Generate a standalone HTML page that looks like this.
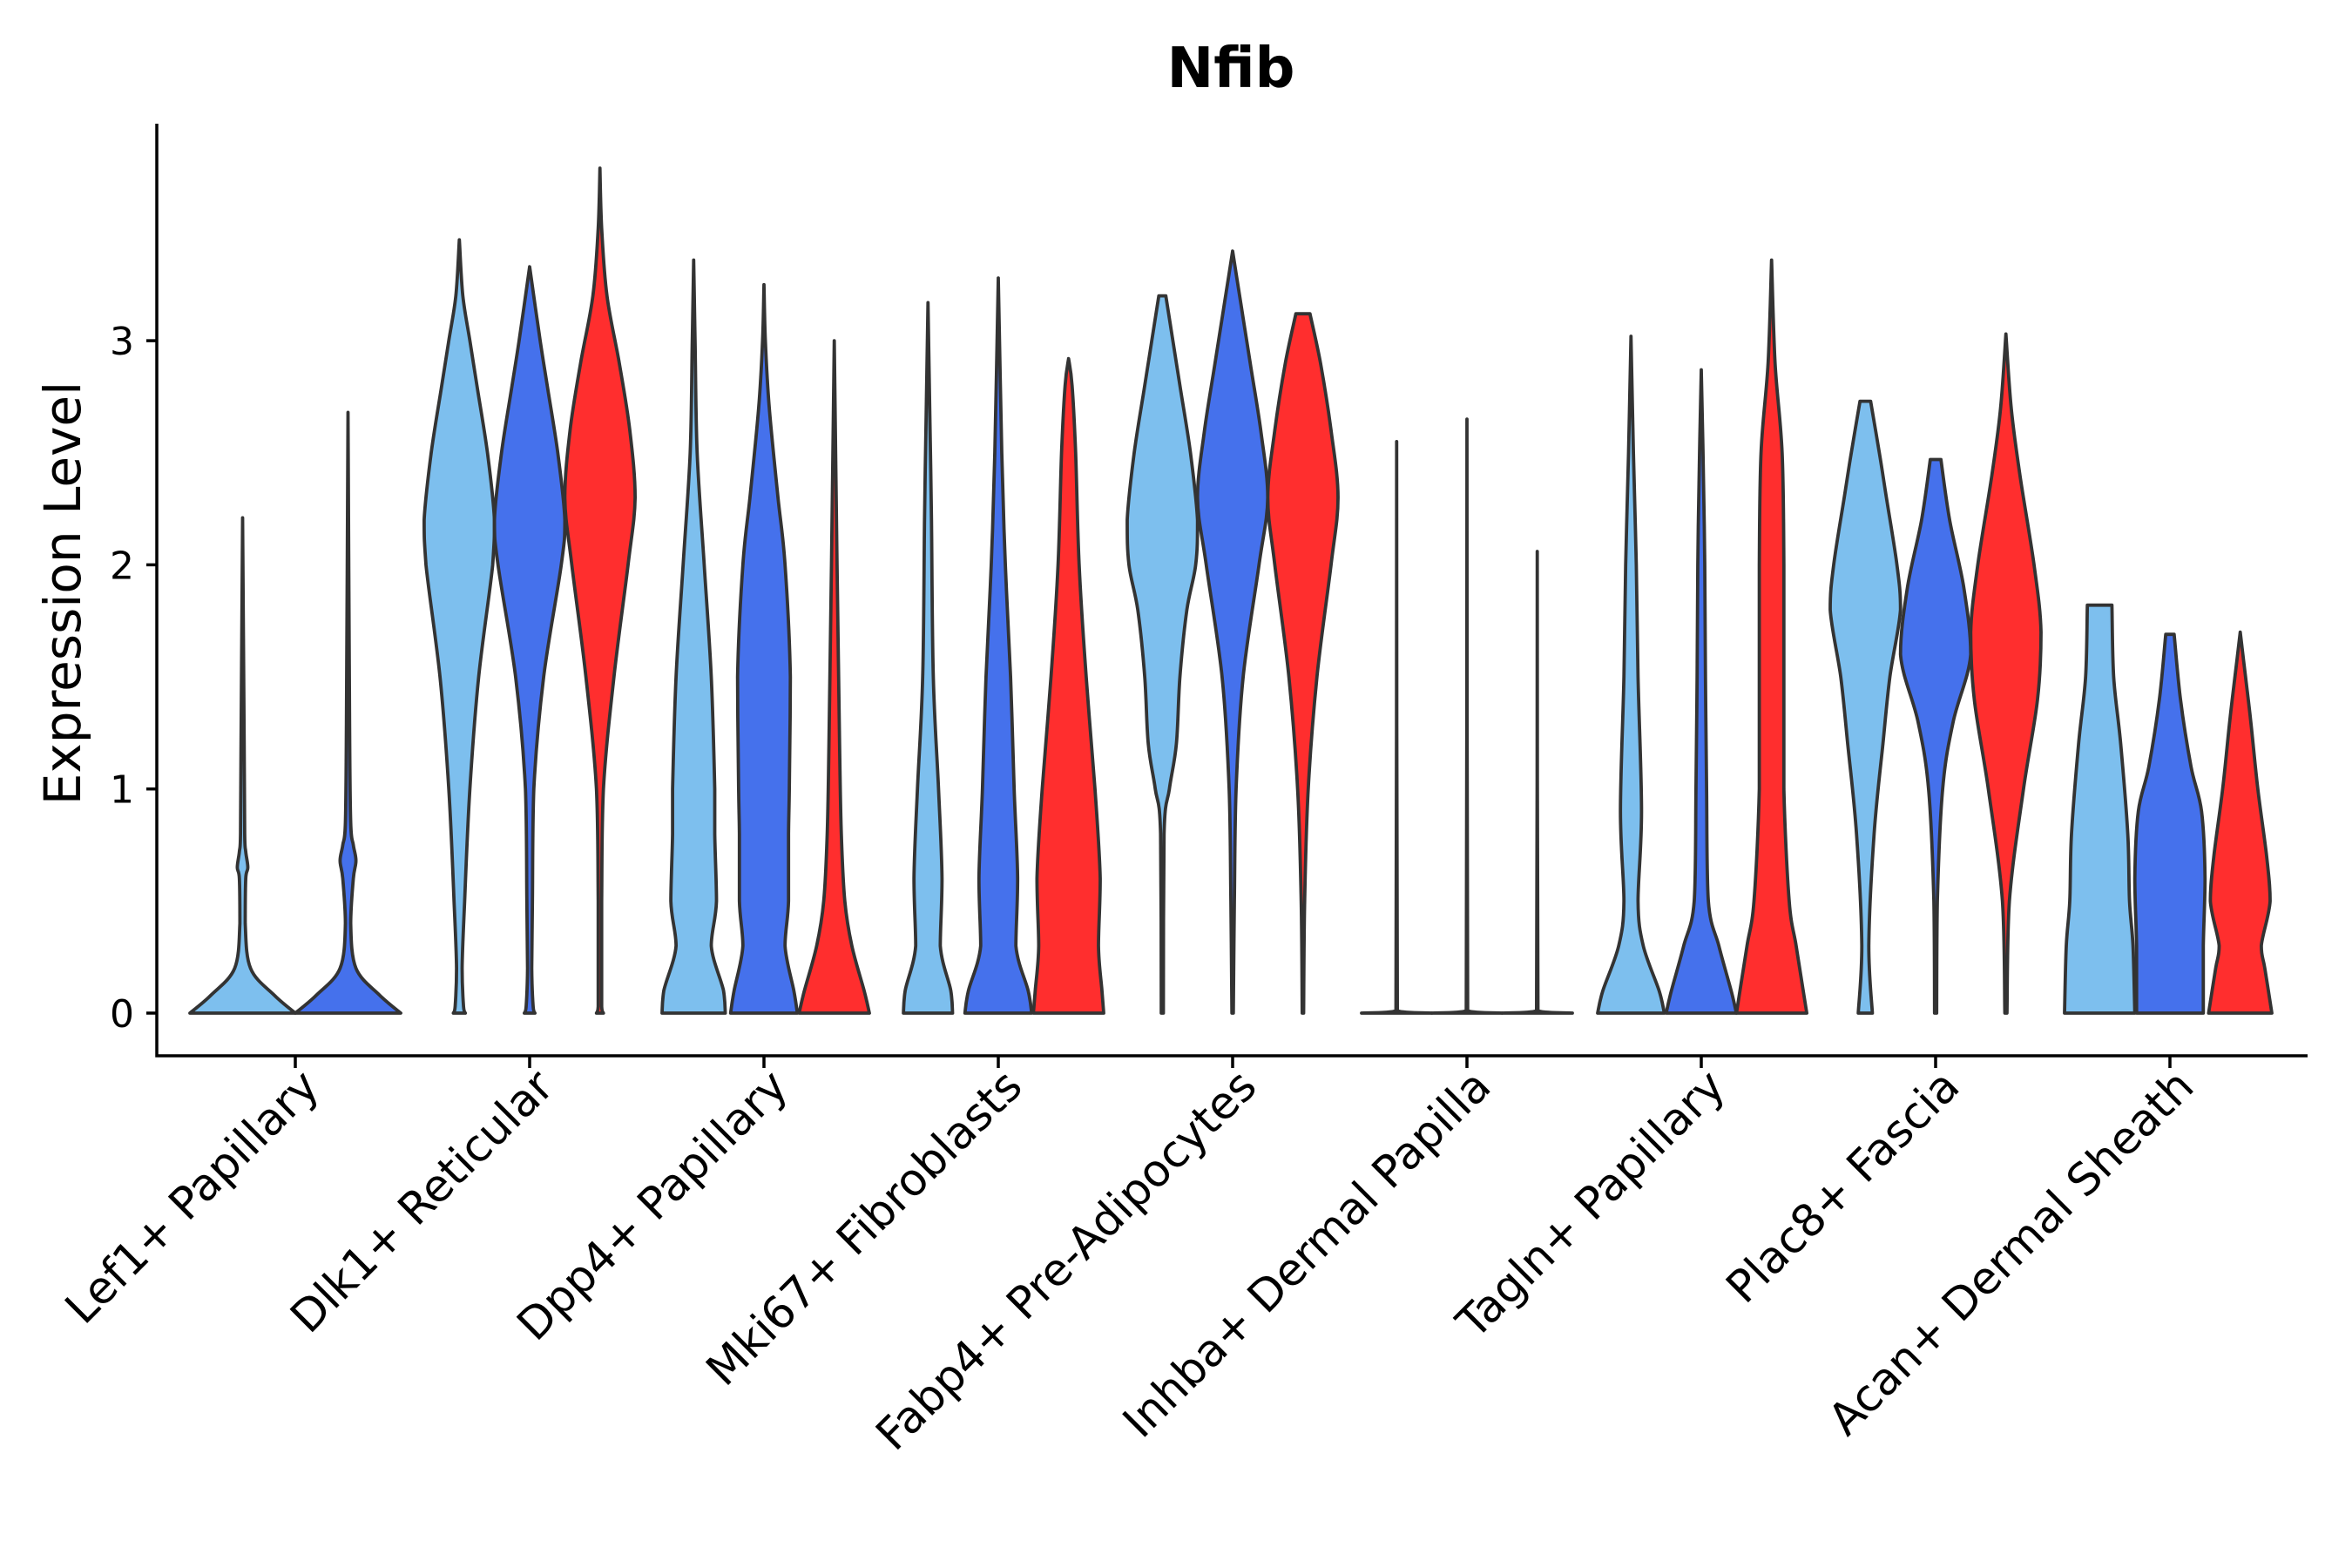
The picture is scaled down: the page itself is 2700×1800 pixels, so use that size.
<!DOCTYPE html>
<html><head><meta charset="utf-8"><style>
html,body{margin:0;padding:0;background:#fff;}
svg{display:block;font-family:"DejaVu Sans","Liberation Sans",sans-serif;}
</style></head><body>
<svg id="chart" width="2700" height="1800" viewBox="0 0 2700 1800">
<text x="1413" y="100" font-size="64" font-weight="bold" text-anchor="middle">Nfib</text>
<text transform="translate(92,681) rotate(-90)" font-size="58" text-anchor="middle">Expression Level</text>
<g id="plot"></g>
</svg>
<script>
const categories = ["Lef1+ Papillary","Dlk1+ Reticular","Dpp4+ Papillary","Mki67+ Fibroblasts","Fabp4+ Pre-Adipocytes","Inhba+ Dermal Papilla","Tagln+ Papillary","Plac8+ Fascia","Acan+ Dermal Sheath"];
const groupColors = ["#7DBFEE","#4571EC","#FF2E2E"];
const yTicks = [0,1,2,3];
const groupsPresent = [[0,1],[0,1,2],[0,1,2],[0,1,2],[0,1,2],[0,1,2],[0,1,2],[0,1,2],[0,1,2]];
const profY = [
 [[0,0.08,0.2,0.4,0.6,0.65,0.72,0.8,1.2,2.21],[0,0.08,0.2,0.4,0.6,0.68,0.75,0.85,1.3,2.68]],
 [[0,0.03,0.2,0.5,1.0,1.5,2.0,2.2,2.5,2.8,3.0,3.2,3.45],[0,0.03,0.2,0.5,1.0,1.5,2.0,2.2,2.5,2.8,3.0,3.33],[0,0.03,0.5,1.0,1.5,2.0,2.3,2.6,2.9,3.2,3.5,3.77]],
 [[0,0.1,0.3,0.5,0.8,1.0,1.5,2.0,2.5,3.0,3.36],[0,0.1,0.3,0.5,0.8,1.0,1.5,2.0,2.3,2.7,3.0,3.25],[0,0.1,0.3,0.5,0.8,1.2,2.0,3.0]],
 [[0,0.1,0.3,0.6,1.0,1.5,2.2,2.6,3.17],[0,0.1,0.3,0.6,1.0,1.5,2.0,2.5,3.28],[0,0.1,0.3,0.6,1.0,1.5,2.0,2.5,2.8,2.92]],
 [[0,0.8,1.0,1.2,1.5,1.8,2.0,2.2,2.5,2.8,3.0,3.2],[0,0.5,1.0,1.5,2.0,2.3,2.6,2.9,3.1,3.3,3.4],[0,0.5,1.0,1.5,2.0,2.3,2.6,2.9,3.12]],
 [[0,0.01,2.55],[0,0.01,2.65],[0,0.01,2.06]],
 [[0,0.1,0.3,0.5,0.9,1.5,2.0,2.5,3.02],[0,0.1,0.3,0.5,1.0,1.5,2.0,2.5,2.87],[0,0.1,0.3,0.5,1.0,1.5,2.0,2.5,2.9,3.36]],
 [[0,0.3,0.8,1.2,1.5,1.8,2.0,2.3,2.5,2.73],[0,0.5,1.0,1.3,1.6,1.9,2.2,2.47],[0,0.5,1.0,1.4,1.7,2.0,2.4,2.7,3.03]],
 [[0,0.3,0.5,0.8,1.2,1.5,1.82],[0,0.3,0.6,0.9,1.1,1.4,1.69],[0,0.2,0.3,0.5,0.7,1.0,1.3,1.5,1.7]]
];
const profW = [
 [[1.0,0.6,0.15,0.05,0.06,0.1,0.06,0.04,0.03,0],[1.0,0.6,0.15,0.05,0.1,0.15,0.1,0.05,0.03,0]],
 [[0.17,0.12,0.08,0.15,0.3,0.55,0.95,1.0,0.8,0.5,0.3,0.1,0],[0.15,0.1,0.06,0.08,0.12,0.4,0.9,1.0,0.8,0.5,0.3,0],[0.1,0.05,0.05,0.1,0.4,0.8,1.0,0.85,0.55,0.2,0.05,0]],
 [[0.9,0.85,0.5,0.65,0.6,0.6,0.5,0.3,0.1,0.04,0],[0.95,0.85,0.6,0.7,0.7,0.72,0.75,0.6,0.4,0.15,0.04,0],[1.0,0.85,0.5,0.3,0.2,0.15,0.08,0]],
 [[0.7,0.65,0.35,0.4,0.3,0.15,0.1,0.06,0],[0.95,0.85,0.5,0.55,0.45,0.35,0.2,0.1,0],[1.0,0.95,0.85,0.9,0.75,0.5,0.3,0.2,0.1,0]],
 [[0.03,0.05,0.2,0.4,0.5,0.7,0.95,1.0,0.8,0.5,0.3,0.1],[0.02,0.05,0.1,0.3,0.75,1.0,0.8,0.5,0.3,0.1,0],[0.02,0.05,0.15,0.4,0.8,1.0,0.8,0.5,0.2]],
 [[1.0,0.02,0],[1.0,0.02,0],[1.0,0.02,0]],
 [[0.95,0.8,0.35,0.2,0.3,0.2,0.15,0.07,0],[1.0,0.85,0.5,0.2,0.15,0.12,0.1,0.05,0],[1.0,0.9,0.7,0.5,0.35,0.35,0.35,0.3,0.1,0]],
 [[0.2,0.1,0.25,0.5,0.7,1.0,0.9,0.6,0.4,0.15],[0.03,0.05,0.2,0.5,1.0,0.8,0.4,0.15],[0.03,0.1,0.5,0.9,1.0,0.8,0.4,0.15,0]],
 [[1.0,0.95,0.85,0.8,0.6,0.4,0.35],[0.95,0.95,1.0,0.9,0.6,0.3,0.12],[0.9,0.7,0.6,0.85,0.75,0.5,0.3,0.15,0]]
];

const NS = "http://www.w3.org/2000/svg";
const plot = document.getElementById("plot");
const X0 = 339, STEP = 269, Y0 = 1163, YUNIT = 257.3;
const xScale = i => X0 + i * STEP;
const yScale = v => Y0 - v * YUNIT;
function mk(tag, attrs) { const e = document.createElementNS(NS, tag); for (const k in attrs) e.setAttribute(k, attrs[k]); plot.appendChild(e); return e; }
function f(n){ return n.toFixed(1); }
function clamp(v, a, b){ const lo = Math.min(a, b), hi = Math.max(a, b); return Math.max(lo, Math.min(hi, v)); }
function smooth(pts) {
  let s = "";
  for (let i = 0; i < pts.length - 1; i++) {
    const p0 = pts[Math.max(0, i - 1)], p1 = pts[i], p2 = pts[i + 1], p3 = pts[Math.min(pts.length - 1, i + 2)];
    const c1 = [clamp(p1[0] + (p2[0] - p0[0]) / 6, p1[0], p2[0]), clamp(p1[1] + (p2[1] - p0[1]) / 6, p1[1], p2[1])];
    const c2 = [clamp(p2[0] - (p3[0] - p1[0]) / 6, p1[0], p2[0]), clamp(p2[1] - (p3[1] - p1[1]) / 6, p1[1], p2[1])];
    s += "C" + f(c1[0]) + "," + f(c1[1]) + " " + f(c2[0]) + "," + f(c2[1]) + " " + f(p2[0]) + "," + f(p2[1]);
  }
  return s;
}

categories.forEach((cat, ci) => {
  const gs = groupsPresent[ci];
  const n = gs.length;
  const slot = 0.9 / n;
  gs.forEach((g, k) => {
    const cx = xScale(ci + (-0.45 + slot * (k + 0.5)));
    const hw = slot * STEP / 2;
    const ys = profY[ci][k], ws = profW[ci][k];
    const left = [], right = [];
    for (let j = 0; j < ys.length; j++) {
      left.push([cx - ws[j] * hw, yScale(ys[j])]);
      right.push([cx + ws[j] * hw, yScale(ys[j])]);
    }
    right.reverse();
    const d = "M" + f(left[0][0]) + "," + f(left[0][1]) + smooth(left) +
      "L" + f(right[0][0]) + "," + f(right[0][1]) + smooth(right) + "Z";
    const p = mk("path", {d: d, fill: groupColors[g], stroke: "#333333", "stroke-width": 3.8, "stroke-linejoin": "round"});
    
    
  });
});

const ax = mk("path", {d: "M180,142 L180,1212 L2649,1212", fill: "none", stroke: "#000", "stroke-width": 3.5});


yTicks.forEach(t => {
  const l = mk("line", {x1: 168, x2: 180, y1: yScale(t), y2: yScale(t), stroke: "#000", "stroke-width": 3.5});
  
  
  const tx = mk("text", {x: 154, y: yScale(t) + 16, "font-size": 44, "text-anchor": "end", fill: "#000"});
  tx.textContent = t;
  
  
});
categories.forEach((cat, ci) => {
  const x = xScale(ci);
  const l = mk("line", {x1: x, x2: x, y1: 1212, y2: 1226, stroke: "#000", "stroke-width": 3.5});
  
  
  const tx = mk("text", {transform: "translate(" + (x + 30) + ",1250) rotate(-45)", "font-size": 51, "text-anchor": "end", fill: "#000"});
  tx.textContent = cat;
  
  
});
</script>
</body></html>
